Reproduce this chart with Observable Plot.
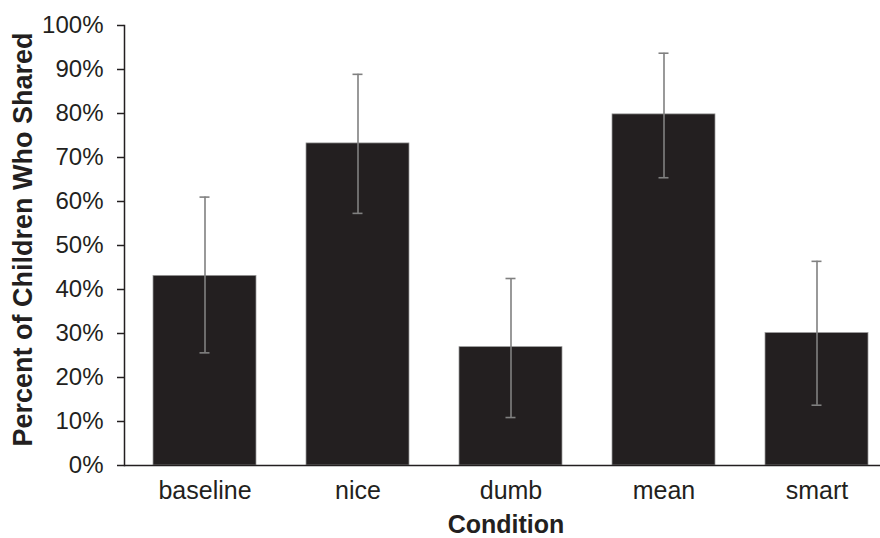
<!DOCTYPE html>
<html>
<head>
<meta charset="utf-8">
<script src="https://cdn.jsdelivr.net/npm/d3@7"></script>
<script src="https://cdn.jsdelivr.net/npm/@observablehq/plot@0.6"></script>
<style>
  html, body { margin: 0; padding: 0; background: #ffffff; overflow: hidden; }
  #chart svg { display: block; }
</style>
</head>
<body>
<div id="chart"></div>
<script>
const categories = ["baseline", "nice", "dumb", "mean", "smart"];
const percentShared = [43.1, 73.2, 26.9, 79.8, 30.1];
const errorLow = [25.6, 57.3, 10.9, 65.4, 13.7];
const errorHigh = [61.0, 88.9, 42.5, 93.7, 46.4];
const yTicks = [0, 10, 20, 30, 40, 50, 60, 70, 80, 90, 100];
const yTitle = "Percent of Children Who Shared";
const xTitle = "Condition";

const data = categories.map((c, i) => ({
  cond: c, value: percentShared[i], lo: errorLow[i], hi: errorHigh[i]
}));

const ink = "#231f20";
const errColor = "#808080";

const chart = Plot.plot({
  width: 880,
  height: 538,
  marginLeft: 124,
  marginRight: 0,
  marginTop: 25,
  marginBottom: 73,
  style: { fontFamily: "'Liberation Sans', Arial, sans-serif", color: ink, background: "#ffffff" },
  x: { domain: categories, range: [126, 894], paddingInner: 0.33, paddingOuter: 0.165, axis: null },
  y: { domain: [0, 100], axis: null },
  marks: [
    Plot.barY(data, { x: "cond", y: "value", fill: ink, stroke: "#9a9a9a", strokeWidth: 0.75 }),
    Plot.ruleX(data, { x: "cond", y1: "lo", y2: "hi", stroke: errColor, strokeWidth: 1.6 }),
    Plot.tickY(data, { x: "cond", y: "lo", stroke: errColor, strokeWidth: 1.6, insetLeft: 46.5, insetRight: 46.5 }),
    Plot.tickY(data, { x: "cond", y: "hi", stroke: errColor, strokeWidth: 1.6, insetLeft: 46.5, insetRight: 46.5 }),
    Plot.axisY({ ticks: yTicks, tickFormat: d => d + "%", tickSize: 7, tickPadding: 14, fontSize: 24, strokeWidth: 1.5, label: null }),
    Plot.axisX({ tickSize: 0, tickPadding: 16, fontSize: 25, label: null }),
    Plot.ruleY([0], { stroke: ink, strokeWidth: 1.5 }),
    Plot.frame({ anchor: "left", stroke: ink, strokeWidth: 1.5 }),
    Plot.text([yTitle], { text: d => d, frameAnchor: "left", textAnchor: "middle", lineAnchor: "middle", rotate: -90, dx: -101.5, dy: -6, fontSize: 27, fontWeight: "bold", fill: ink }),
    Plot.text([xTitle], { text: d => d, frameAnchor: "bottom", textAnchor: "middle", lineAnchor: "middle", dx: 3.5, dy: 59, fontSize: 25, fontWeight: "bold", fill: ink })
  ]
});
document.getElementById("chart").appendChild(chart);
</script>
</body>
</html>
